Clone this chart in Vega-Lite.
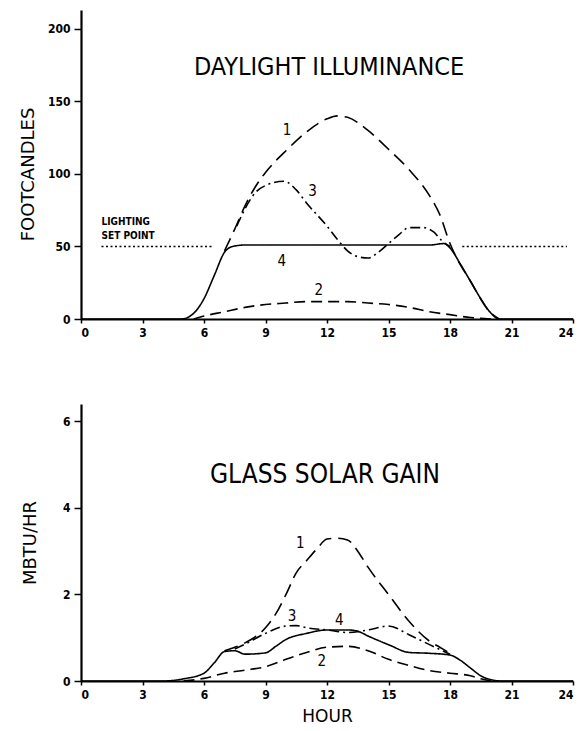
{
  "$schema": "https://vega.github.io/schema/vega-lite/v6.json",
  "padding": {"left": 19, "top": 10, "right": 5, "bottom": 2},
  "spacing": 66,
  "config": {
    "view": {"stroke": null},
    "font": "DejaVu Sans Condensed, Liberation Sans, sans-serif",
    "axis": {
      "domainColor": "black", "domainWidth": 2.2, "tickColor": "black", "tickWidth": 1.5, "tickSize": 5,
      "grid": false, "labelFont": "DejaVu Sans Condensed, Liberation Sans, sans-serif", "labelFontWeight": "bold", "labelFontSize": 12,
      "labelColor": "black", "labelPadding": 4, "titleFont": "DejaVu Sans, Liberation Sans, sans-serif", "titleFontWeight": "normal",
      "titleColor": "black", "titleFontSize": 18
    },
    "axisX": {"tickSize": 4, "labelPadding": 4},
    "axisY": {"tickSize": 7, "labelPadding": 4}
  },
  "datasets": {
    "daylight": [
      {"hour": 0, "fc": 0, "curve": "4"}, {"hour": 4.9, "fc": 0, "curve": "4"}, {"hour": 5.5, "fc": 4, "curve": "4"},
      {"hour": 6, "fc": 14, "curve": "4"}, {"hour": 6.5, "fc": 30, "curve": "4"}, {"hour": 7, "fc": 46, "curve": "4"},
      {"hour": 7.4, "fc": 50, "curve": "4"}, {"hour": 8, "fc": 51, "curve": "4"}, {"hour": 12, "fc": 51, "curve": "4"},
      {"hour": 17, "fc": 51, "curve": "4"}, {"hour": 17.7, "fc": 52, "curve": "4"}, {"hour": 18, "fc": 49, "curve": "4"},
      {"hour": 18.5, "fc": 38, "curve": "4"}, {"hour": 19, "fc": 26, "curve": "4"}, {"hour": 19.5, "fc": 14, "curve": "4"},
      {"hour": 20, "fc": 4, "curve": "4"}, {"hour": 20.4, "fc": 0, "curve": "4"}, {"hour": 24, "fc": 0, "curve": "4"},

      {"hour": 7, "fc": 47, "curve": "1"}, {"hour": 7.5, "fc": 62, "curve": "1"}, {"hour": 8, "fc": 78, "curve": "1"},
      {"hour": 8.5, "fc": 91, "curve": "1"}, {"hour": 9, "fc": 101, "curve": "1"}, {"hour": 9.5, "fc": 109, "curve": "1"},
      {"hour": 10, "fc": 116, "curve": "1"}, {"hour": 11, "fc": 129, "curve": "1"}, {"hour": 12, "fc": 138, "curve": "1"},
      {"hour": 12.5, "fc": 140, "curve": "1"}, {"hour": 13, "fc": 139, "curve": "1"}, {"hour": 14, "fc": 130, "curve": "1"},
      {"hour": 15, "fc": 117, "curve": "1"}, {"hour": 16, "fc": 103, "curve": "1"}, {"hour": 17, "fc": 85, "curve": "1"},
      {"hour": 17.5, "fc": 72, "curve": "1"}, {"hour": 18, "fc": 52, "curve": "1"}, {"hour": 19, "fc": 26, "curve": "1"},
      {"hour": 20, "fc": 4, "curve": "1"}, {"hour": 20.4, "fc": 0, "curve": "1"},

      {"hour": 7.6, "fc": 64, "curve": "3"}, {"hour": 8, "fc": 76, "curve": "3"}, {"hour": 8.5, "fc": 87, "curve": "3"},
      {"hour": 9, "fc": 92, "curve": "3"}, {"hour": 9.9, "fc": 95, "curve": "3"}, {"hour": 10.5, "fc": 89, "curve": "3"},
      {"hour": 11, "fc": 80, "curve": "3"}, {"hour": 12, "fc": 64, "curve": "3"}, {"hour": 12.5, "fc": 55, "curve": "3"},
      {"hour": 13, "fc": 47, "curve": "3"}, {"hour": 13.5, "fc": 43, "curve": "3"}, {"hour": 14, "fc": 42, "curve": "3"},
      {"hour": 14.5, "fc": 46, "curve": "3"}, {"hour": 15, "fc": 52, "curve": "3"}, {"hour": 15.5, "fc": 58, "curve": "3"},
      {"hour": 16, "fc": 63, "curve": "3"}, {"hour": 16.7, "fc": 63, "curve": "3"}, {"hour": 17.2, "fc": 60, "curve": "3"},
      {"hour": 17.6, "fc": 54, "curve": "3"}, {"hour": 18, "fc": 50, "curve": "3"},

      {"hour": 5.5, "fc": 0, "curve": "2"}, {"hour": 6, "fc": 2, "curve": "2"}, {"hour": 7, "fc": 5, "curve": "2"},
      {"hour": 8, "fc": 8, "curve": "2"}, {"hour": 9, "fc": 10, "curve": "2"}, {"hour": 10, "fc": 11, "curve": "2"},
      {"hour": 11, "fc": 12, "curve": "2"}, {"hour": 12, "fc": 12, "curve": "2"}, {"hour": 13, "fc": 12, "curve": "2"},
      {"hour": 14, "fc": 11, "curve": "2"}, {"hour": 15, "fc": 10, "curve": "2"}, {"hour": 16, "fc": 8, "curve": "2"},
      {"hour": 17, "fc": 5, "curve": "2"}, {"hour": 18, "fc": 3, "curve": "2"}, {"hour": 19, "fc": 1, "curve": "2"},
      {"hour": 20, "fc": 0, "curve": "2"}
    ],
    "setpoint": [
      {"hour": 1.0, "fc": 50, "seg": "a"}, {"hour": 6.4, "fc": 50, "seg": "a"},
      {"hour": 18.6, "fc": 50, "seg": "b"}, {"hour": 23.7, "fc": 50, "seg": "b"}
    ],
    "toplabels": [
      {"hour": 10.05, "fc": 130, "text": "1"}, {"hour": 11.3, "fc": 88, "text": "3"},
      {"hour": 9.8, "fc": 40, "text": "4"}, {"hour": 11.6, "fc": 20, "text": "2"}
    ],
    "solar": [
      {"hour": 0, "g": 0, "curve": "4"}, {"hour": 4, "g": 0, "curve": "4"}, {"hour": 5, "g": 0.05, "curve": "4"},
      {"hour": 6, "g": 0.18, "curve": "4"}, {"hour": 6.5, "g": 0.42, "curve": "4"}, {"hour": 7, "g": 0.68, "curve": "4"},
      {"hour": 7.5, "g": 0.7, "curve": "4"}, {"hour": 8, "g": 0.62, "curve": "4"}, {"hour": 9, "g": 0.65, "curve": "4"},
      {"hour": 9.5, "g": 0.8, "curve": "4"}, {"hour": 10, "g": 0.96, "curve": "4"}, {"hour": 11, "g": 1.1, "curve": "4"},
      {"hour": 12, "g": 1.18, "curve": "4"}, {"hour": 13, "g": 1.18, "curve": "4"}, {"hour": 13.5, "g": 1.15, "curve": "4"},
      {"hour": 14, "g": 1.04, "curve": "4"}, {"hour": 15, "g": 0.84, "curve": "4"}, {"hour": 16, "g": 0.66, "curve": "4"},
      {"hour": 17, "g": 0.64, "curve": "4"}, {"hour": 18, "g": 0.6, "curve": "4"}, {"hour": 18.5, "g": 0.48, "curve": "4"},
      {"hour": 19, "g": 0.3, "curve": "4"}, {"hour": 19.5, "g": 0.12, "curve": "4"}, {"hour": 20, "g": 0.03, "curve": "4"},
      {"hour": 20.5, "g": 0, "curve": "4"}, {"hour": 24, "g": 0, "curve": "4"},

      {"hour": 7, "g": 0.7, "curve": "1"}, {"hour": 7.5, "g": 0.78, "curve": "1"}, {"hour": 8, "g": 0.88, "curve": "1"},
      {"hour": 9, "g": 1.23, "curve": "1"}, {"hour": 9.5, "g": 1.55, "curve": "1"}, {"hour": 10, "g": 2.0, "curve": "1"},
      {"hour": 10.5, "g": 2.5, "curve": "1"}, {"hour": 11, "g": 2.78, "curve": "1"}, {"hour": 11.5, "g": 3.05, "curve": "1"},
      {"hour": 12, "g": 3.28, "curve": "1"}, {"hour": 12.5, "g": 3.3, "curve": "1"}, {"hour": 13, "g": 3.26, "curve": "1"},
      {"hour": 13.5, "g": 3.0, "curve": "1"}, {"hour": 14, "g": 2.63, "curve": "1"}, {"hour": 15, "g": 2.0, "curve": "1"},
      {"hour": 16, "g": 1.38, "curve": "1"}, {"hour": 17, "g": 0.92, "curve": "1"}, {"hour": 17.5, "g": 0.78, "curve": "1"},
      {"hour": 18, "g": 0.64, "curve": "1"},

      {"hour": 7.5, "g": 0.74, "curve": "3"}, {"hour": 8, "g": 0.85, "curve": "3"}, {"hour": 9, "g": 1.1, "curve": "3"},
      {"hour": 10, "g": 1.27, "curve": "3"}, {"hour": 10.5, "g": 1.28, "curve": "3"}, {"hour": 11, "g": 1.23, "curve": "3"},
      {"hour": 12, "g": 1.18, "curve": "3"}, {"hour": 13, "g": 1.12, "curve": "3"}, {"hour": 14, "g": 1.18, "curve": "3"},
      {"hour": 15, "g": 1.27, "curve": "3"}, {"hour": 16, "g": 1.07, "curve": "3"}, {"hour": 17, "g": 0.84, "curve": "3"},
      {"hour": 18, "g": 0.62, "curve": "3"},

      {"hour": 5, "g": 0, "curve": "2"}, {"hour": 6, "g": 0.06, "curve": "2"}, {"hour": 7, "g": 0.18, "curve": "2"},
      {"hour": 8, "g": 0.25, "curve": "2"}, {"hour": 9, "g": 0.33, "curve": "2"}, {"hour": 10, "g": 0.5, "curve": "2"},
      {"hour": 11, "g": 0.66, "curve": "2"}, {"hour": 12, "g": 0.78, "curve": "2"}, {"hour": 13, "g": 0.8, "curve": "2"},
      {"hour": 14, "g": 0.7, "curve": "2"}, {"hour": 15, "g": 0.5, "curve": "2"}, {"hour": 16, "g": 0.36, "curve": "2"},
      {"hour": 17, "g": 0.24, "curve": "2"}, {"hour": 18, "g": 0.18, "curve": "2"}, {"hour": 19, "g": 0.12, "curve": "2"},
      {"hour": 19.5, "g": 0.05, "curve": "2"}, {"hour": 20, "g": 0, "curve": "2"}
    ],
    "botlabels": [
      {"hour": 10.7, "g": 3.2, "text": "1"}, {"hour": 10.3, "g": 1.5, "text": "3"},
      {"hour": 12.6, "g": 1.42, "text": "4"}, {"hour": 11.75, "g": 0.46, "text": "2"}
    ]
  },
  "vconcat": [
    {
      "width": 492, "height": 309,
      "layer": [
        {
          "data": {"name": "daylight"},
          "mark": {"type": "line", "interpolate": "monotone", "color": "black"},
          "encoding": {
            "x": {"field": "hour", "type": "quantitative", "scale": {"domain": [0, 24], "nice": false},
                  "axis": {"values": [0, 3, 6, 9, 12, 15, 18, 21, 24], "title": null}},
            "y": {"field": "fc", "type": "quantitative", "scale": {"domain": [0, 213], "nice": false},
                  "axis": {"values": [0, 50, 100, 150, 200], "title": "FOOTCANDLES", "titleY": 164, "titlePadding": 10}},
            "strokeDash": {"field": "curve", "type": "nominal",
                  "scale": {"domain": ["1", "2", "3", "4"], "range": [[14, 7], [11, 6], [10, 4, 2, 4], [1, 0]]}, "legend": null},
            "strokeWidth": {"field": "curve", "type": "ordinal",
                  "scale": {"domain": ["1", "2", "3", "4"], "range": [1.6, 1.6, 1.4, 2.6]}, "legend": null}
          }
        },
        {
          "data": {"name": "setpoint"},
          "mark": {"type": "line", "color": "black", "strokeDash": [2, 2.5], "strokeWidth": 1.6},
          "encoding": {
            "x": {"field": "hour", "type": "quantitative"},
            "y": {"field": "fc", "type": "quantitative"},
            "detail": {"field": "seg"}
          }
        },
        {
          "data": {"name": "toplabels"},
          "mark": {"type": "text", "font": "DejaVu Sans Condensed, Liberation Sans, sans-serif", "fontSize": 15, "color": "black"},
          "encoding": {
            "x": {"field": "hour", "type": "quantitative"},
            "y": {"field": "fc", "type": "quantitative"},
            "text": {"field": "text"}
          }
        },
        {
          "data": {"values": [{"hour": 12.1, "fc": 174, "text": "DAYLIGHT ILLUMINANCE"}]},
          "mark": {"type": "text", "font": "DejaVu Sans Condensed, Liberation Sans, sans-serif", "fontSize": 25, "color": "black"},
          "encoding": {
            "x": {"field": "hour", "type": "quantitative"},
            "y": {"field": "fc", "type": "quantitative"},
            "text": {"field": "text"}
          }
        },
        {
          "data": {"values": [{"hour": 1.0, "fc": 67, "text": "LIGHTING"}, {"hour": 1.0, "fc": 57.5, "text": "SET POINT"}]},
          "mark": {"type": "text", "font": "DejaVu Sans Condensed, Liberation Sans, sans-serif", "fontWeight": "bold", "fontSize": 10, "align": "left", "color": "black"},
          "encoding": {
            "x": {"field": "hour", "type": "quantitative"},
            "y": {"field": "fc", "type": "quantitative"},
            "text": {"field": "text"}
          }
        }
      ]
    },
    {
      "width": 492, "height": 277,
      "layer": [
        {
          "data": {"name": "solar"},
          "mark": {"type": "line", "interpolate": "monotone", "color": "black"},
          "encoding": {
            "x": {"field": "hour", "type": "quantitative", "scale": {"domain": [0, 24], "nice": false},
                  "axis": {"values": [0, 3, 6, 9, 12, 15, 18, 21, 24], "title": "HOUR", "titlePadding": 8, "titleFontSize": 17}},
            "y": {"field": "g", "type": "quantitative", "scale": {"domain": [0, 6.4], "nice": false},
                  "axis": {"values": [0, 2, 4, 6], "title": "MBTU/HR", "titlePadding": 23}},
            "strokeDash": {"field": "curve", "type": "nominal",
                  "scale": {"domain": ["1", "2", "3", "4"], "range": [[14, 7], [11, 6], [10, 4, 2, 4], [1, 0]]}, "legend": null},
            "strokeWidth": {"field": "curve", "type": "ordinal",
                  "scale": {"domain": ["1", "2", "3", "4"], "range": [1.6, 1.6, 1.4, 1.6]}, "legend": null}
          }
        },
        {
          "data": {"name": "botlabels"},
          "mark": {"type": "text", "font": "DejaVu Sans Condensed, Liberation Sans, sans-serif", "fontSize": 15, "color": "black"},
          "encoding": {
            "x": {"field": "hour", "type": "quantitative"},
            "y": {"field": "g", "type": "quantitative"},
            "text": {"field": "text"}
          }
        },
        {
          "data": {"values": [{"hour": 11.9, "g": 4.75, "text": "GLASS SOLAR GAIN"}]},
          "mark": {"type": "text", "font": "DejaVu Sans Condensed, Liberation Sans, sans-serif", "fontSize": 26, "color": "black"},
          "encoding": {
            "x": {"field": "hour", "type": "quantitative"},
            "y": {"field": "g", "type": "quantitative"},
            "text": {"field": "text"}
          }
        }
      ]
    }
  ]
}
